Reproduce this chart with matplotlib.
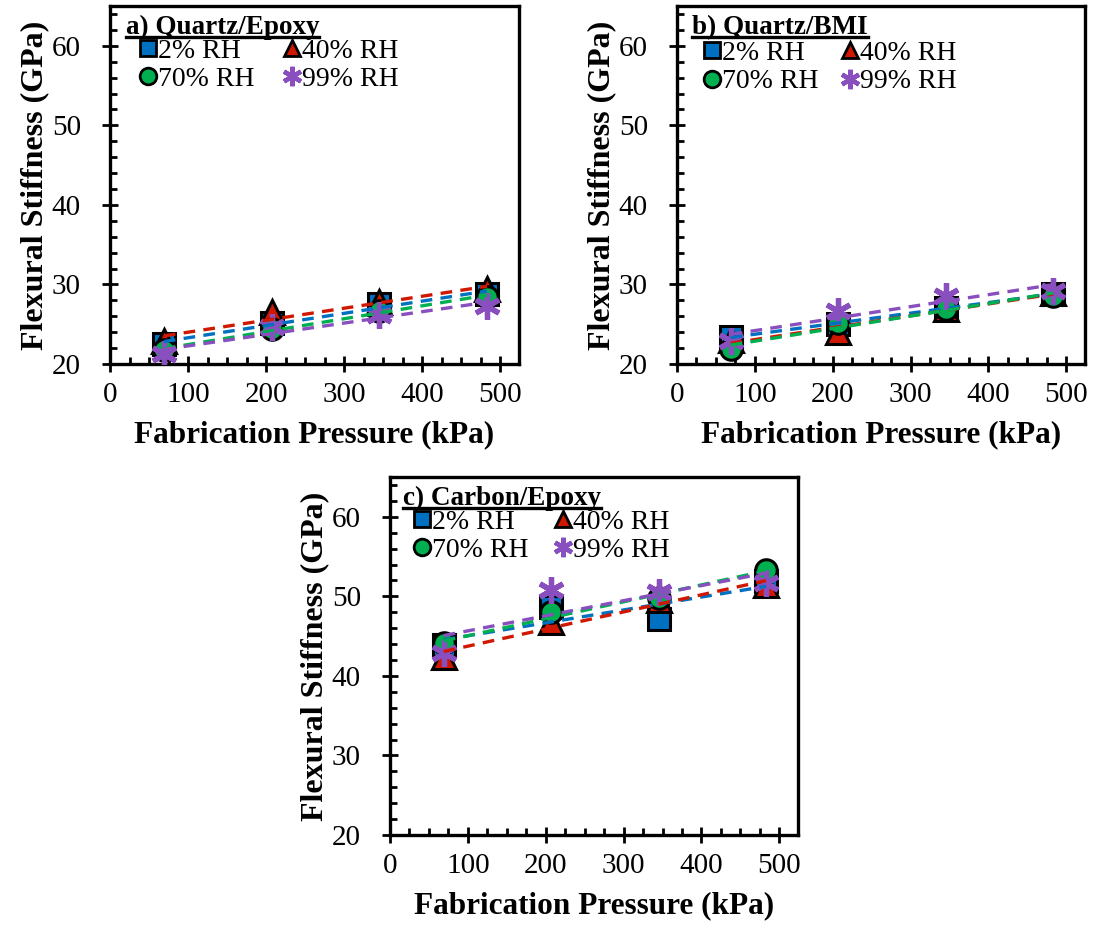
import numpy as np
import matplotlib
matplotlib.use("Agg")
import matplotlib.pyplot as plt
from matplotlib.ticker import MultipleLocator
from matplotlib.lines import Line2D

plt.rcParams['font.family'] = ['Liberation Serif', 'DejaVu Serif']

# fabrication pressure (kPa) -- 10, 30, 50, 70 psi
pressure = [69, 207, 345, 483]
rh_labels = ['2% RH', '40% RH', '70% RH', '99% RH']

# flexural stiffness (GPa), one list per humidity
qe_2 = [22.5, 25.2, 27.5, 28.8]
qe_40 = [22.9, 26.5, 27.8, 29.4]
qe_70 = [21.7, 24.4, 26.7, 28.4]
qe_99 = [21.2, 24.6, 26.1, 27.3]

qb_2 = [23.4, 25.0, 27.1, 28.8]
qb_40 = [23.0, 24.0, 26.9, 28.9]
qb_70 = [21.9, 25.2, 26.9, 28.6]
qb_99 = [22.9, 26.7, 28.6, 29.2]

ce_2 = [43.9, 48.7, 47.1, 51.9]
ce_40 = [42.4, 46.8, 49.5, 51.4]
ce_70 = [44.1, 48.0, 49.8, 53.3]
ce_99 = [42.9, 50.8, 50.6, 51.7]

panels = [
    ('a) Quartz/Epoxy', [qe_2, qe_40, qe_70, qe_99]),
    ('b) Quartz/BMI', [qb_2, qb_40, qb_70, qb_99]),
    ('c) Carbon/Epoxy', [ce_2, ce_40, ce_70, ce_99]),
]

colors = ['#0070C0', '#D01800', '#00B050', '#8A4FBF']
markers = ['s', '^', 'o', (6, 2, 0)]

W, H = 1099, 930
fig = plt.figure(figsize=(W / 100, H / 100), dpi=100)

# axes boxes in pixels: left, top, right, bottom
boxes = [(110, 6, 519, 364), (677, 6, 1085, 364), (390, 477, 798, 835)]
# legend placement per panel: title x, legend x, column spacing, legend top
leg_pos = [(0.039, 0.073, 1.05, 0.910), (0.037, 0.066, 0.85, 0.903), (0.032, 0.059, 0.95, 0.910)]

axes = []
for (title, series), (l, t, r, b), (tx, lx, cs, ly) in zip(panels, boxes, leg_pos):
    ax = fig.add_axes([l / W, 1 - b / H, (r - l) / W, (b - t) / H])
    axes.append(ax)
    handles = []
    for vals, lab, c, m in zip(series, rh_labels, colors, markers):
        if m == (6, 2, 0):
            ax.plot(pressure, vals, ls='none', marker=m, ms=19, mec=c, mew=3.8, zorder=3)
            h = Line2D([], [], ls='none', marker=m, ms=14, mec=c, mew=3.2)
        else:
            ms = 15.5 if m != '^' else 17
            ax.plot(pressure, vals, ls='none', marker=m, ms=ms, mfc=c, mec='black', mew=2.2, zorder=3)
            h = Line2D([], [], ls='none', marker=m, ms=12, mfc=c, mec='black', mew=2)
        handles.append(h)
    # linear trend lines
    for vals, c in zip(series, colors):
        k, b0 = np.polyfit(pressure, vals, 1)
        xs = np.array([pressure[0], pressure[-1]])
        ax.plot(xs, k * xs + b0, ls=(0, (3.5, 2.5)), color=c, lw=2.4, zorder=4)

    ax.set_xlim(0, 524)
    ax.set_ylim(20, 65)
    ax.xaxis.set_major_locator(MultipleLocator(100))
    ax.xaxis.set_minor_locator(MultipleLocator(25))
    ax.yaxis.set_minor_locator(MultipleLocator(2))
    ax.set_yticks([20, 30, 40, 50, 60])
    ax.tick_params(which='major', direction='inout', length=12, width=2, labelsize=21)
    ax.tick_params(which='minor', direction='in', length=5, width=2)
    ax.tick_params(axis='x', which='major', pad=7)
    ax.tick_params(axis='y', which='major', pad=15)
    for s in ax.spines.values():
        s.set_linewidth(2.4)
    ax.set_xlabel('Fabrication Pressure (kPa)', fontsize=22.5, fontweight='bold', labelpad=9)
    ax.set_ylabel('Flexural Stiffness (GPa)', fontsize=23, fontweight='bold', labelpad=2)

    ax.text(tx, 0.975, title, transform=ax.transAxes, ha='left', va='top',
            fontsize=19.5, fontweight='bold')
    # row-wise order: 2%, 40% on the first row; 70%, 99% on the second
    order = [0, 2, 1, 3]
    ax.legend([handles[i] for i in order], [rh_labels[i] for i in order], ncol=2,
              loc='upper left', bbox_to_anchor=(lx, ly),
              frameon=False, fontsize=20, handletextpad=0.05, columnspacing=cs,
              handlelength=0.6, borderaxespad=0, labelspacing=0.1, borderpad=0)

# underline the panel titles
fig.canvas.draw()
renderer = fig.canvas.get_renderer()
for ax in axes:
    for txt in ax.texts:
        bb = txt.get_window_extent(renderer)
        y = bb.y0 + 3
        fig.add_artist(Line2D([bb.x0 / W, bb.x1 / W], [y / H, y / H], color='black', lw=2.4,
                              transform=fig.transFigure))

fig.savefig('out.png', dpi=100)
